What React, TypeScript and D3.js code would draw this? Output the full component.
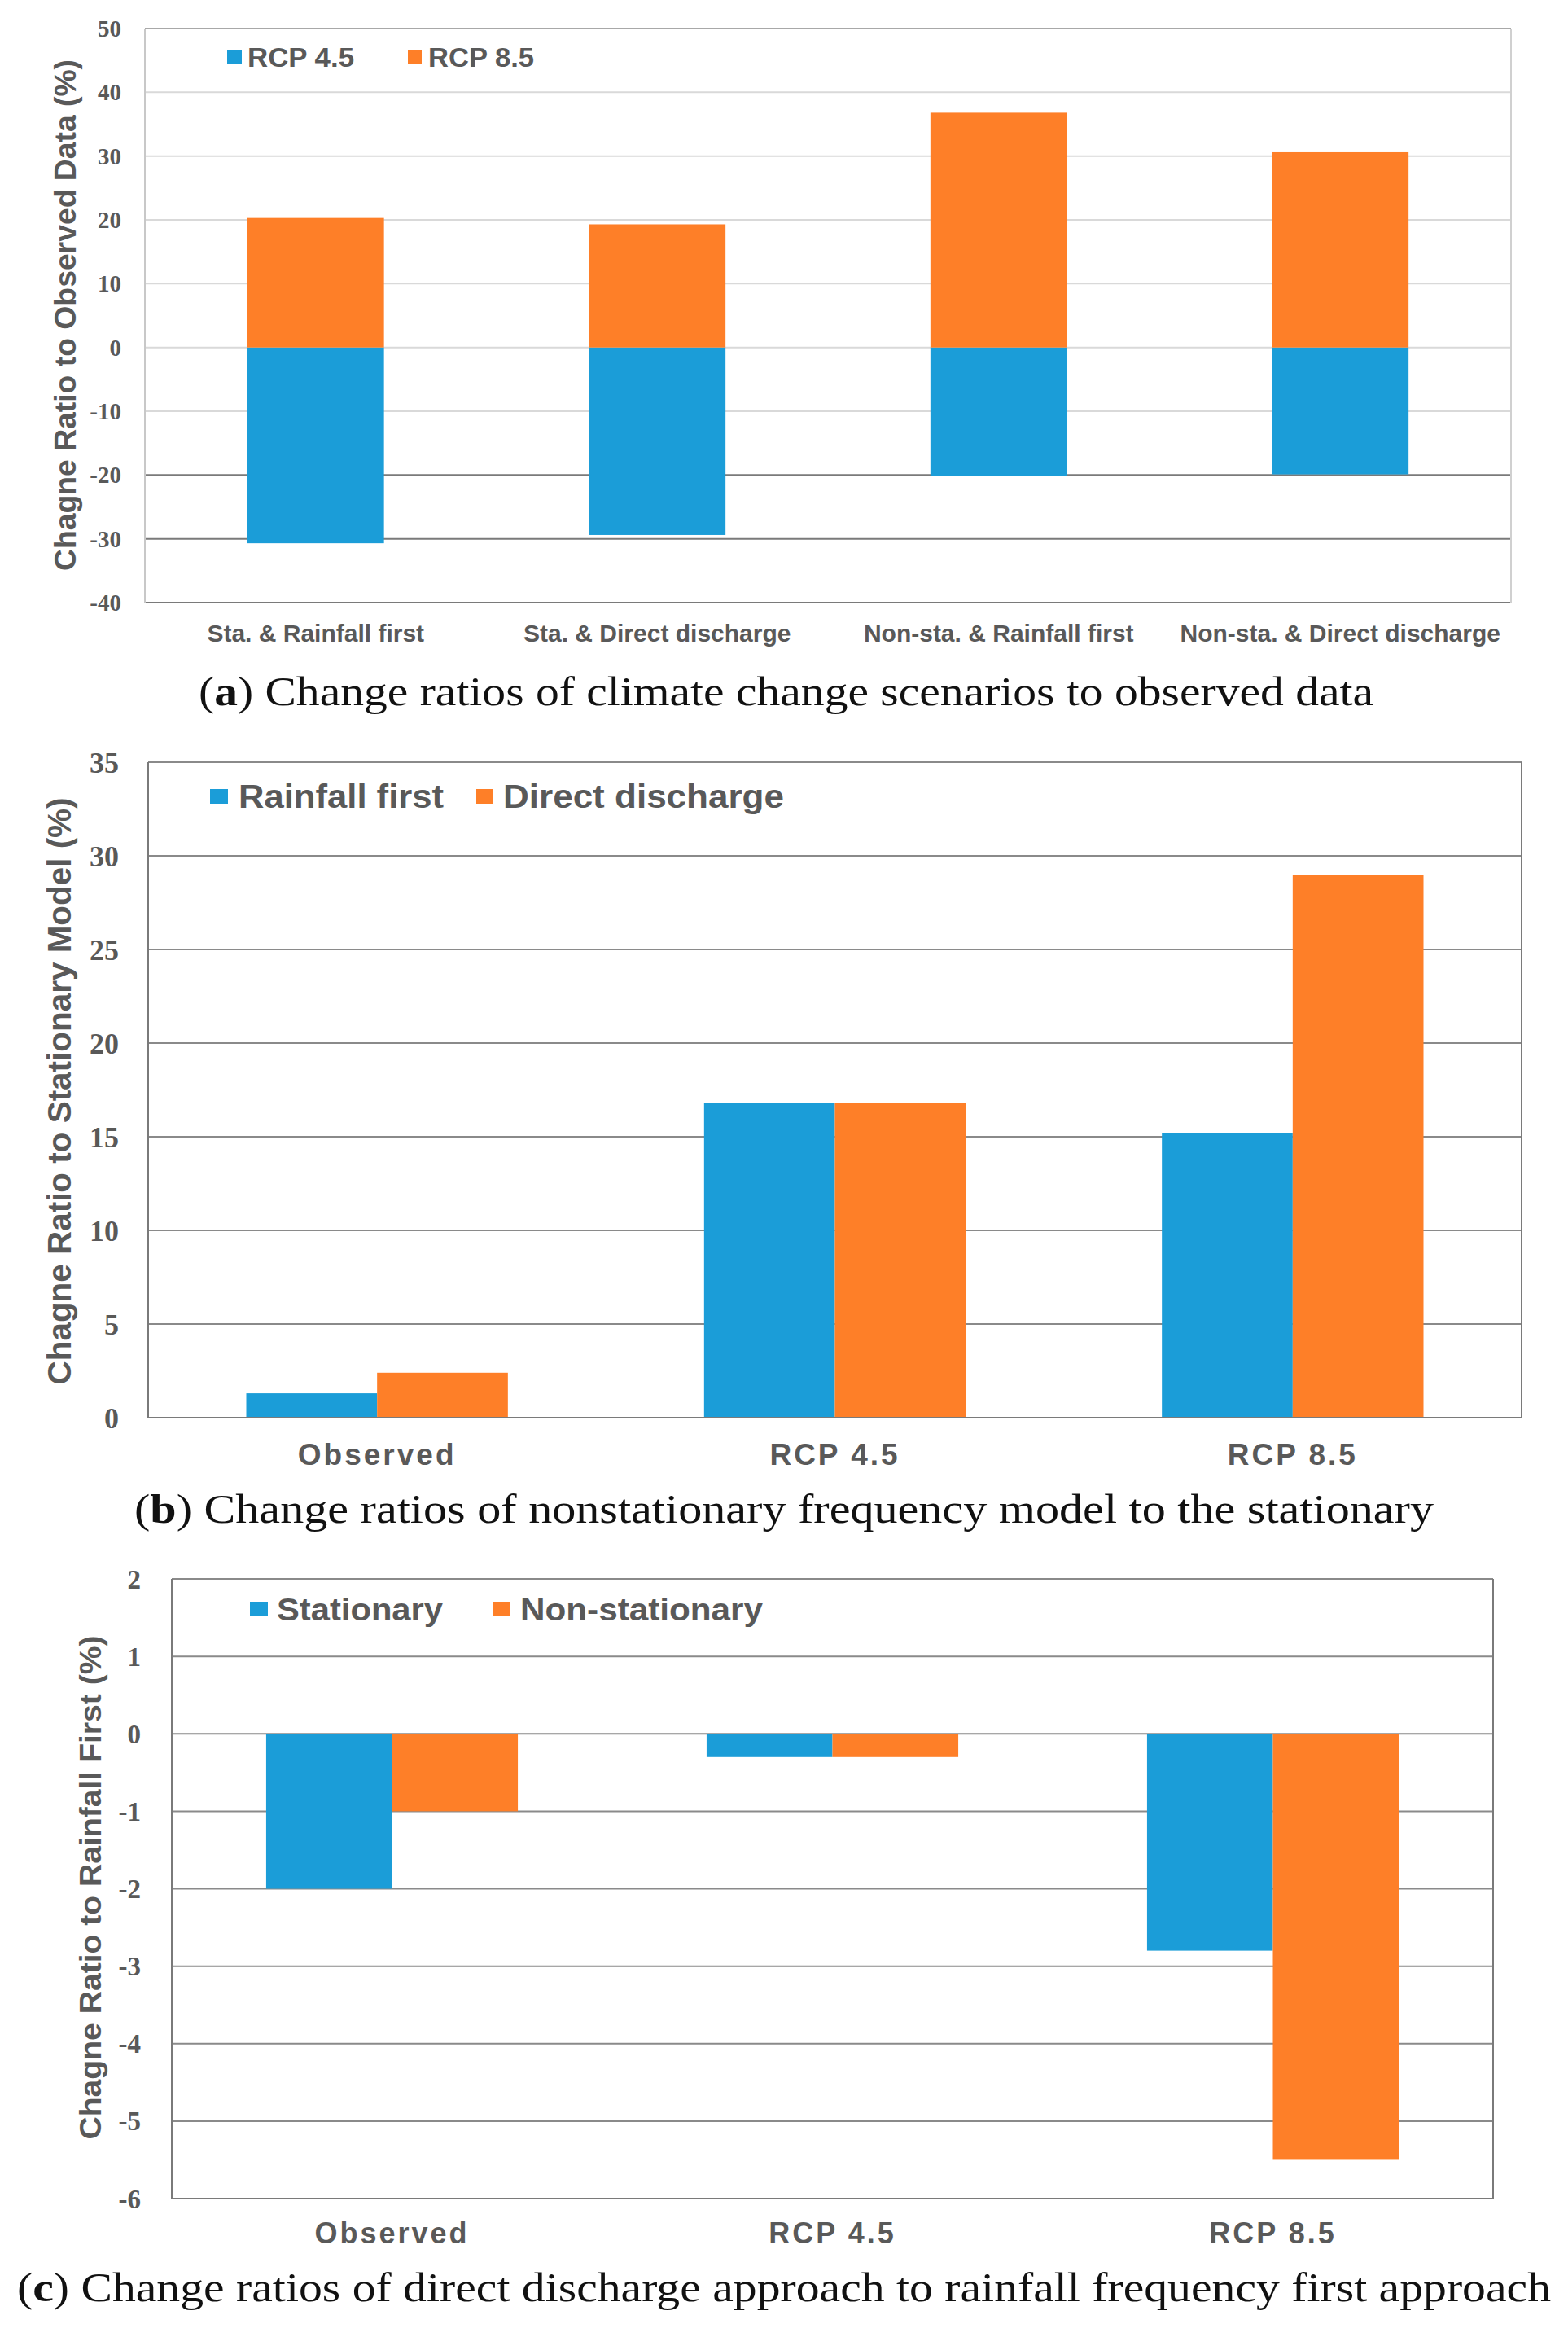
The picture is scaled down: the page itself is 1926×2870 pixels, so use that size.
import React, { useEffect } from 'react';
import * as d3 from 'd3';

// panel (a)
const scenarioCats = ['Sta. & Rainfall first', 'Sta. & Direct discharge', 'Non-sta. & Rainfall first', 'Non-sta. & Direct discharge'];
const rcp45Vals = [-30.7, -29.4, -20.1, -19.9];
const rcp85Vals = [20.3, 19.3, 36.8, 30.6];
const ticksA = [-40, -30, -20, -10, 0, 10, 20, 30, 40, 50];

// panel (b)
const modelCats = ['Observed', 'RCP 4.5', 'RCP 8.5'];
const rainfallFirstVals = [1.3, 16.8, 15.2];
const directDischargeVals = [2.4, 16.8, 29.0];
const ticksB = [0, 5, 10, 15, 20, 25, 30, 35];

// panel (c)
const approachCats = ['Observed', 'RCP 4.5', 'RCP 8.5'];
const stationaryVals = [-2.0, -0.3, -2.8];
const nonStationaryVals = [-1.0, -0.3, -5.5];
const ticksC = [-6, -5, -4, -3, -2, -1, 0, 1, 2];

const BLUE = '#1b9dd8';
const ORANGE = '#fe7f28';
const TXT = '#595959';
const SANS = 'Liberation Sans, Arial, sans-serif';
const SERIF = 'Liberation Serif, Times New Roman, serif';

interface LegendItem { label: string; color: string; sq: [number, number]; text: [number, number]; }

interface PanelProps {
    cats: string[];
    series: number[][];
    colors: string[];
    ticks: number[];
    left: number; right: number; top: number; bottom: number;
    stacked: boolean;
    gap: number;
    gridColor: (v: number) => string;
    tickX: number; tickSize: number;
    title: string; titleX: number; titleY: number; titleLen: number; titleSize: number;
    catY: number; catSize: number; catSpacing: number;
    legend: LegendItem[]; legendY: number; legendSq: number; legendSize: number;
    rightColor: string; leftColor: string; topColor: string;
}

const Panel: React.FC<PanelProps> = (p) => {
    const x = d3.scaleBand<string>().domain(p.cats).range([p.left, p.right]).padding(0);
    const y = d3.scaleLinear().domain([p.ticks[0], p.ticks[p.ticks.length - 1]]).range([p.bottom, p.top]);
    const step = x.step();
    const groupW = step / (1 + p.gap);
    const nS = p.series.length;
    const barW = p.stacked ? groupW : groupW / nS;

    return (
        <g>
            {p.ticks.slice(1, -1).map(t => (
                <line key={'g' + t} x1={p.left} x2={p.right} y1={y(t)} y2={y(t)} stroke={p.gridColor(t)} strokeWidth={2} />
            ))}
            {p.series.map((vals, si) => vals.map((v, i) => {
                const cx = (x(p.cats[i]) as number) + step / 2;
                const bx = p.stacked ? cx - groupW / 2 : cx - groupW / 2 + si * barW;
                return (
                    <rect key={`b${si}-${i}`} x={bx} width={barW}
                        y={Math.min(y(v), y(0))} height={Math.abs(y(v) - y(0))} fill={p.colors[si]} />
                );
            }))}
            <line x1={p.left} x2={p.right} y1={p.top} y2={p.top} stroke={p.topColor} strokeWidth={2} />
            <line x1={p.left} x2={p.right} y1={p.bottom} y2={p.bottom} stroke="#7a7a7a" strokeWidth={2} />
            <line x1={p.left} x2={p.left} y1={p.top} y2={p.bottom} stroke={p.leftColor} strokeWidth={2} />
            <line x1={p.right} x2={p.right} y1={p.top} y2={p.bottom} stroke={p.rightColor} strokeWidth={2} />
            {p.ticks.map(t => (
                <text key={'t' + t} x={p.tickX} y={y(t)} dy="0.35em" textAnchor="end"
                    fontFamily={SERIF} fontWeight="bold" fontSize={p.tickSize} fill={TXT}>{t}</text>
            ))}
            <text transform={`translate(${p.titleX},${p.titleY}) rotate(-90)`} textAnchor="middle" dy="0.35em"
                fontFamily={SANS} fontWeight="bold" fontSize={p.titleSize} fill={TXT}
                textLength={p.titleLen} lengthAdjust="spacingAndGlyphs">{p.title}</text>
            {p.cats.map(c => (
                <text key={'c' + c} x={(x(c) as number) + step / 2} y={p.catY} dy="0.35em" textAnchor="middle"
                    fontFamily={SANS} fontWeight="bold" fontSize={p.catSize} letterSpacing={p.catSpacing} fill={TXT}>{c}</text>
            ))}
            {p.legend.map(l => (
                <g key={l.label}>
                    <rect x={l.sq[0]} width={l.sq[1] - l.sq[0]} y={p.legendY - p.legendSq / 2} height={p.legendSq} fill={l.color} />
                    <text x={l.text[0]} y={p.legendY} dy="0.36em" fontFamily={SANS} fontWeight="bold"
                        fontSize={p.legendSize} fill={TXT} textLength={l.text[1] - l.text[0]}
                        lengthAdjust="spacingAndGlyphs">{l.label}</text>
                </g>
            ))}
        </g>
    );
};

const Caption: React.FC<{ letter: string; rest: string; x: number; y: number; len: number }> = ({ letter, rest, x, y, len }) => (
    <text x={x} y={y} fontFamily={SERIF} fontSize={51} fill="#111" textLength={len} lengthAdjust="spacingAndGlyphs">
        (<tspan fontWeight="bold">{letter}</tspan>) {rest}
    </text>
);

const App: React.FC = () => {
    useEffect(() => { document.body.style.margin = '0'; }, []);
    return (
        <svg width={1926} height={2870} style={{ display: 'block', background: '#fff' }}>
            <Panel
                cats={scenarioCats} series={[rcp45Vals, rcp85Vals]} colors={[BLUE, ORANGE]} ticks={ticksA}
                left={178} right={1856} top={35} bottom={740} stacked gap={1.5}
                gridColor={v => (v <= -20 ? '#7a7a7a' : '#d9d9d9')}
                tickX={149} tickSize={29}
                title="Chagne Ratio to Observed Data (%)" titleX={80} titleY={387} titleLen={628} titleSize={36}
                catY={777} catSize={30} catSpacing={0}
                legend={[
                    { label: 'RCP 4.5', color: BLUE, sq: [279, 297], text: [304, 435] },
                    { label: 'RCP 8.5', color: ORANGE, sq: [501, 518], text: [526, 656] },
                ]}
                legendY={70} legendSq={18} legendSize={33}
                rightColor="#d0d0d0" leftColor="#c8c8c8" topColor="#a8a8a8"
            />
            <Caption letter="a" rest="Change ratios of climate change scenarios to observed data" x={244} y={866} len={1443} />

            <Panel
                cats={modelCats} series={[rainfallFirstVals, directDischargeVals]} colors={[BLUE, ORANGE]} ticks={ticksB}
                left={182} right={1869} top={936} bottom={1741} stacked={false} gap={0.75}
                gridColor={() => '#8a8a8a'}
                tickX={146} tickSize={36}
                title="Chagne Ratio to Stationary Model (%)" titleX={73} titleY={1340} titleLen={721} titleSize={40}
                catY={1786} catSize={37} catSpacing={3}
                legend={[
                    { label: 'Rainfall first', color: BLUE, sq: [258, 280], text: [293, 545] },
                    { label: 'Direct discharge', color: ORANGE, sq: [585, 606], text: [618, 963] },
                ]}
                legendY={978} legendSq={18} legendSize={40}
                rightColor="#7a7a7a" leftColor="#7a7a7a" topColor="#8a8a8a"
            />
            <Caption letter="b" rest="Change ratios of nonstationary frequency model to the stationary" x={165} y={1870} len={1596} />

            <Panel
                cats={approachCats} series={[stationaryVals, nonStationaryVals]} colors={[BLUE, ORANGE]} ticks={ticksC}
                left={211} right={1834} top={1939} bottom={2700} stacked={false} gap={0.75}
                gridColor={() => '#8a8a8a'}
                tickX={173} tickSize={33}
                title="Chagne Ratio to Rainfall First (%)" titleX={111} titleY={2318} titleLen={619} titleSize={37}
                catY={2742} catSize={36} catSpacing={3}
                legend={[
                    { label: 'Stationary', color: BLUE, sq: [307, 329], text: [340, 544] },
                    { label: 'Non-stationary', color: ORANGE, sq: [606, 627], text: [639, 937] },
                ]}
                legendY={1976} legendSq={18} legendSize={38}
                rightColor="#7a7a7a" leftColor="#7a7a7a" topColor="#8a8a8a"
            />
            <Caption letter="c" rest="Change ratios of direct discharge approach to rainfall frequency first approach" x={21} y={2826} len={1884} />
        </svg>
    );
};

export default App;
